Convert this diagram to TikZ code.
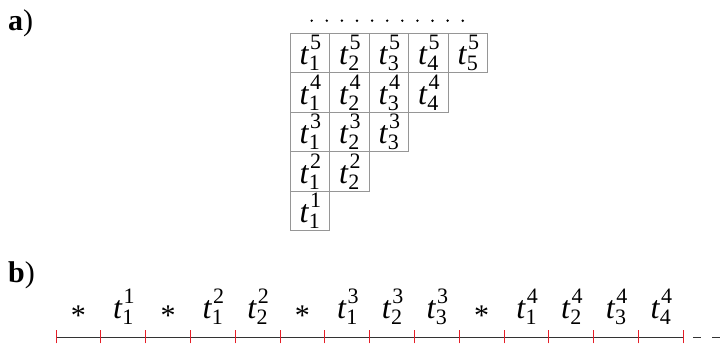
\documentclass[tikz,border=0pt]{standalone}
\usepackage{graphicx}
\usepackage{fontspec}
\setmainfont{Liberation Serif}
\usetikzlibrary{positioning}
\definecolor{gridgray}{RGB}{150,150,150}
\definecolor{tickred}{RGB}{230,30,40}
% t with superscript and subscript, set as text
\newcommand{\idx}[1]{{\fontsize{22}{24}\selectfont #1}}
\newcommand{\tv}[2]{\textit{t}\rlap{\kern0.03em\raisebox{0.47em}{\idx{#1}}}\kern-0.01em\raisebox{-0.18em}{\idx{#2}}}
\tikzset{
  cell/.style={rectangle,draw=gridgray,line width=0.9pt,minimum size=39.5pt,
               inner sep=0pt,font=\fontsize{32}{36}\selectfont},
  lbl/.style={anchor=base,inner sep=0pt,font=\fontsize{32}{36}\selectfont},
  star/.style={inner sep=0pt,font=\fontsize{30}{34}\selectfont},
  tickmark/.style={tickred,line width=0.9pt},
  part/.style={anchor=base west,inner sep=0pt,font=\fontsize{30}{34}\selectfont},
}
\begin{document}
\begin{tikzpicture}[x=1pt,y=-1pt]
  \useasboundingbox (0,0) rectangle (726,347);

  % part a: triangular table
  \node[part] (pa) at (8,31) {\textbf{a})};
  \foreach \k in {0,...,10}{
    \fill (311.7+15.1*\k,20.7) circle (1.35pt);
  }
  \foreach \n in {1,...,5}{
    \foreach \j in {1,...,\n}{
      \node[cell] (c\n\j) at (290+19.75+39.5*\j-39.5,33.3+19.75+39.5*5-39.5*\n) {\tv{\n}{\j}};
    }
  }

  % part b: the sequence on a line
  \node[part] (pb) at (8,283) {\textbf{b})};
  \foreach \k in {0,...,14}{
    \coordinate (tk\k) at (56+44.8*\k,337);
  }
  \coordinate (end) at (726,337);
  \draw[line width=0.9pt,black!80] (tk0) -- (tk14);
  \draw[line width=0.9pt,black!80,dash pattern=on 8pt off 11pt,dash phase=-10pt] (tk14) -- (end);
  \foreach \k in {0,...,14}{
    \draw[tickmark] ([yshift=-6.5pt]tk\k) -- ([yshift=6.5pt]tk\k);
  }
  \foreach \k in {1,3,6,10}{
    \node[star] (l\k) at (56+44.8*\k-22.4,316) {*};
  }
  \foreach \k/\i/\j in {2/1/1,4/2/1,5/2/2,7/3/1,8/3/2,9/3/3,11/4/1,12/4/2,13/4/3,14/4/4}{
    \node[lbl] (l\k) at (56+44.8*\k-22.4,319) {\tv{\i}{\j}};
  }
\end{tikzpicture}
\end{document}
